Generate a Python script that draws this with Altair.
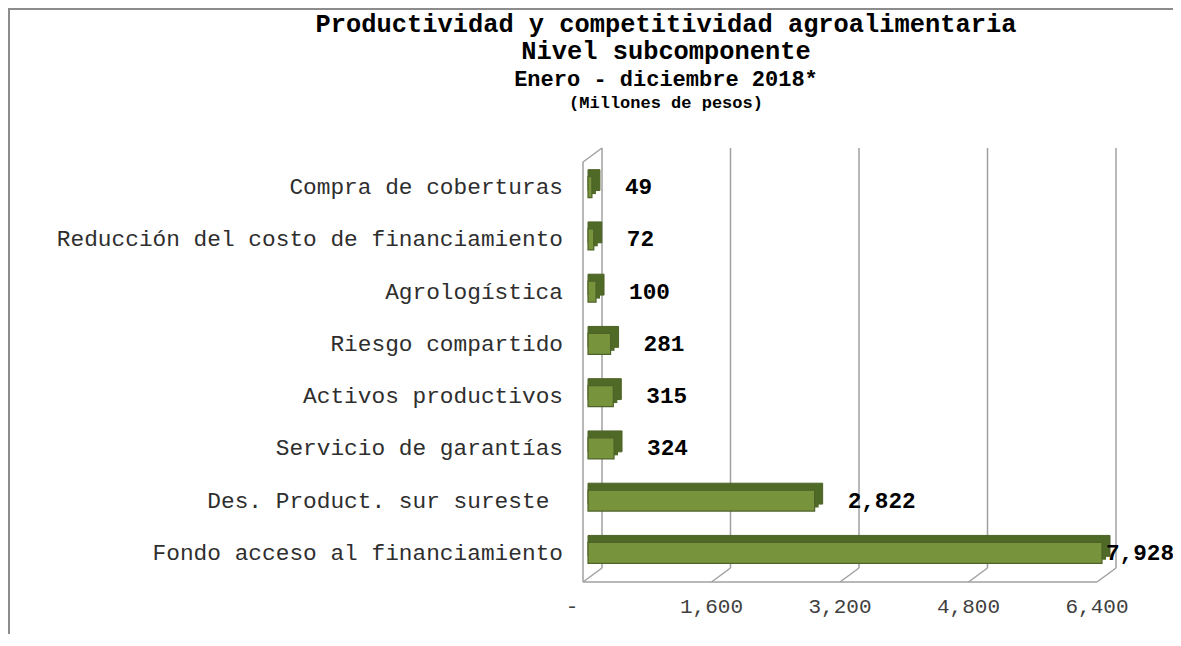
import altair as alt
import pandas as pd

# ---------------- data ----------------
categories = [
    "Compra de coberturas",
    "Reducción del costo de financiamiento",
    "Agrologística",
    "Riesgo compartido",
    "Activos productivos",
    "Servicio de garantías",
    "Des. Product. sur sureste ",
    "Fondo acceso al financiamiento",
]
values = [49, 72, 100, 281, 315, 324, 2822, 7928]
tick_values = [0, 1600, 3200, 4800, 6400]
tick_labels = ["-", "1,600", "3,200", "4,800", "6,400"]
title_lines = [
    "Productividad y competitividad agroalimentaria",
    "Nivel subcomponente",
    "Enero - diciembre 2018*",
    "(Millones de pesos)",
]

# ---------------- styling ----------------
FONT = "Liberation Mono"
X_MAX = 6400
FRONT = "#77933C"
DARK = "#4F6A26"
EDGE = "#4F6228"
GRID = "#A0A0A0"
BORDER = "#8C8C8C"
TXT = "#2E2E2E"

df = pd.DataFrame({"cat": categories, "v": values})
# keep trailing spaces visible in SVG (nbsp + zero-width space so it is not trimmed)
df["label"] = [
    c.rstrip() + ("\u00a0" * (len(c) - len(c.rstrip())) + "\u200b" if c != c.rstrip() else "")
    for c in categories
]
grid = pd.DataFrame({"t": tick_values, "lab": tick_labels})
one = pd.DataFrame({"a": [0]})

xs = alt.Scale(domain=[0, X_MAX], clamp=True, nice=False, zero=True)
ys = alt.Scale(domain=categories, paddingInner=0.6, paddingOuter=0.3)

X = alt.X("v:Q", scale=xs, axis=None, stack=None)
Y = alt.Y("cat:N", scale=ys, axis=None)
XT = alt.X("t:Q", scale=xs, axis=None)

# frame of the chart (outer border, cropped on right/bottom)
border_top = alt.Chart(one).mark_rule(color=BORDER, strokeWidth=2).encode(
    x=alt.value(-580), x2=alt.value(600), y=alt.value(-152)
)
border_left = alt.Chart(one).mark_rule(color=BORDER, strokeWidth=2).encode(
    x=alt.value(-579), y=alt.value(-153), y2=alt.value(480)
)

# back wall gridlines
gridlines = alt.Chart(grid).mark_rule(color=GRID, strokeWidth=1.5, xOffset=14).encode(
    x=XT, y=alt.value(-13), y2=alt.value(407)
)
# floor diagonals
diagonals = alt.Chart(grid).mark_rule(
    color=GRID, strokeWidth=1.5, xOffset=14, x2Offset=-5
).encode(x=XT, x2="t:Q", y=alt.value(407), y2=alt.value(421))
# floor front edge
floor_front = alt.Chart(grid).mark_rule(
    color=GRID, strokeWidth=1.5, xOffset=-5, x2Offset=-5
).encode(x=alt.X("min(t):Q", scale=xs, axis=None), x2="max(t):Q", y=alt.value(421))
# left wall front edge
wall_front = alt.Chart(grid).transform_filter("datum.t == 0").mark_rule(
    color=GRID, strokeWidth=1.5, xOffset=-5
).encode(x=XT, y=alt.value(1), y2=alt.value(421))
# left wall top edge
wall_top = alt.Chart(grid).transform_filter("datum.t == 0").mark_rule(
    color=GRID, strokeWidth=1.5, xOffset=-5, x2Offset=14
).encode(x=XT, x2="t:Q", y=alt.value(1), y2=alt.value(-13))

# 3D-looking bars (back faces stepped to mimic the slanted top/side)
bars_back = alt.Chart(df).mark_bar(
    color=DARK, stroke=EDGE, strokeWidth=1,
    xOffset=8, x2Offset=8, yOffset=-7, y2Offset=-7
).encode(x=X, y=Y)
bars_mid = alt.Chart(df).mark_bar(
    color=DARK, xOffset=4, x2Offset=4, yOffset=-3.5, y2Offset=-3.5
).encode(x=X, y=Y)
bars_front = alt.Chart(df).mark_bar(
    color=FRONT, stroke=EDGE, strokeWidth=1.2
).encode(x=X, y=Y)

# category labels
cat_labels = alt.Chart(df).mark_text(
    align="right", baseline="middle", font=FONT, fontSize=22.8, color=TXT
).encode(x=alt.value(-25), y=Y, text="label:N")

# value labels
val_labels = alt.Chart(df).transform_filter(f"datum.v <= {X_MAX}").mark_text(
    align="left", baseline="middle", dx=33, font=FONT, fontSize=22.7,
    fontWeight="bold", color="#000000"
).encode(x=X, y=Y, text=alt.Text("v:Q", format=","))
val_labels_clip = alt.Chart(df).transform_filter(f"datum.v > {X_MAX}").mark_text(
    align="left", baseline="middle", dx=4, font=FONT, fontSize=22.7,
    fontWeight="bold", color="#000000"
).encode(x=X, y=Y, text=alt.Text("v:Q", format=","))

# x tick labels
tick_text = alt.Chart(grid).transform_filter("datum.t > 0").mark_text(
    align="center", baseline="middle", dx=-5, font=FONT, fontSize=21, color="#404040"
).encode(x=XT, y=alt.value(446), text="lab:N")
tick_zero = alt.Chart(grid).transform_filter("datum.t == 0").mark_text(
    align="center", baseline="middle", dx=-16, font=FONT, fontSize=21, color="#404040"
).encode(x=XT, y=alt.value(446), text="lab:N")

# titles
def title_layer(text, size, ypos):
    return alt.Chart(one).mark_text(
        align="center", baseline="middle", font=FONT, fontSize=size,
        fontWeight="bold", color="#000000", text=text
    ).encode(x=alt.value(78), y=alt.value(ypos))

t1 = title_layer(title_lines[0], 25.4, -137)
t2 = title_layer(title_lines[1], 25.4, -110)
t3 = title_layer(title_lines[2], 22, -82)
t4 = title_layer(title_lines[3], 17, -58)

chart = alt.layer(
    border_top, border_left,
    gridlines, diagonals, floor_front, wall_front, wall_top,
    bars_back, bars_mid, bars_front,
    cat_labels, val_labels, val_labels_clip,
    tick_text, tick_zero,
    t1, t2, t3, t4,
).properties(
    width=514,
    height=418,
    autosize=alt.AutoSizeParams(type="none"),
    padding={"left": 580, "top": 153, "right": 71, "bottom": 55},
    background="#ffffff",
).configure_view(strokeWidth=0)

chart.save("out.html", embed_options={"renderer": "svg", "actions": False})
